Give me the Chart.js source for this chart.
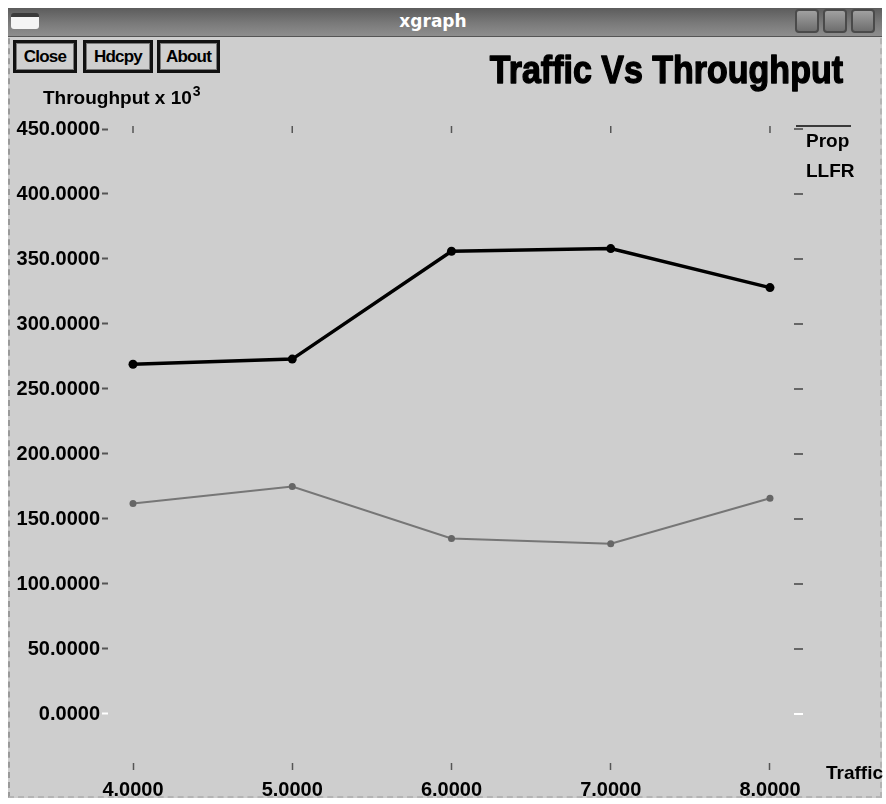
<!DOCTYPE html>
<html>
<head>
<meta charset="utf-8">
<title>xgraph</title>
<script src="https://cdn.jsdelivr.net/npm/chart.js@4/dist/chart.umd.min.js"></script>
<style>
  html, body { margin: 0; padding: 0; background: #ffffff; }
  body { width: 886px; height: 804px; position: relative; overflow: hidden; font-family: "Liberation Sans", Arial, sans-serif; }
  .frame { position: absolute; left: 8px; top: 8px; width: 874px; height: 790px; background: #cecece;
           border-left: 2px dashed #9a9a9a; border-right: 2px dashed #b4b4b4; border-bottom: 2px dashed #b4b4b4; box-sizing: border-box; }
  .titlebar { position: absolute; left: 8px; top: 8px; width: 874px; height: 29px;
              background: linear-gradient(#5c5c5c, #7a7a7a 55%, #8e8e8e); border-bottom: 1px solid #555; box-sizing: border-box; }
  .titlebar .name { position: absolute; left: 0; width: 850px; top: 3px; text-align: center; color: #fff;
                    font: bold 17px "DejaVu Sans", sans-serif; }
  .titlebar .icon { position: absolute; left: 3px; top: 5px; width: 28px; height: 16px; background: #f4f4f4;
                    border-radius: 3px; border-top: 4px solid #3a3a3a; box-sizing: border-box; }
  .winbtn { position: absolute; top: 1px; width: 24px; height: 24px; border-radius: 4px; box-sizing: border-box;
            border: 2px solid #4a4a4a; background: linear-gradient(#a0a0a0, #6e6e6e); }
  .btn { position: absolute; top: 40px; height: 33px; box-sizing: border-box; border: 3px solid #111;
         box-shadow: inset 0 0 0 1px #7a7a7a; background: #cfcfcf; color: #000; text-align: center;
         font: bold 17px "Liberation Sans", Arial, sans-serif; line-height: 27px; letter-spacing: -0.8px; }
  #chart { position: absolute; left: 0; top: 0; }
</style>
</head>
<body>
<div class="frame"></div>
<div class="titlebar">
  <div class="icon"></div>
  <div class="name">xgraph</div>
  <div class="winbtn" style="left:787px"></div>
  <div class="winbtn" style="left:815px"></div>
  <div class="winbtn" style="left:843px"></div>
</div>
<div class="btn" style="left:13px;width:64px">Close</div>
<div class="btn" style="left:83px;width:70px">Hdcpy</div>
<div class="btn" style="left:157px;width:63px">About</div>
<canvas id="chart" width="886" height="804"></canvas>
<script>
// Traffic load (x) against measured throughput (x 10^3) for two schemes
const traffic = [4, 5, 6, 7, 8];
const propThroughput = [269, 273, 356, 358, 328];
const llfrThroughput = [162, 175, 135, 131, 166];
const yTickValues = [0, 50, 100, 150, 200, 250, 300, 350, 400, 450];
const seriesNames = ['Prop', 'LLFR'];
const seriesColors = ['#000000', '#767676'];
const chartTitle = 'Traffic Vs Throughput';
const yAxisName = 'Throughput x 10';
const yAxisPower = '3';
const xAxisName = 'Traffic';

const FONT = '"Liberation Sans", Arial, sans-serif';

const toPoints = ys => traffic.map((t, i) => ({ x: t, y: ys[i] }));

// xgraph-style frame decorations: opposite-side tick marks, title, axis names, legend
const xgraphDecor = {
  id: 'xgraphDecor',
  afterDraw(chart) {
    const { ctx, chartArea: a, scales: { x, y } } = chart;
    ctx.save();
    ctx.lineWidth = 1.5;
    // short marks along the top edge at every x tick
    ctx.strokeStyle = '#555';
    x.ticks.forEach(t => {
      const px = x.getPixelForValue(t.value);
      ctx.beginPath(); ctx.moveTo(px, a.top - 3); ctx.lineTo(px, a.top + 4); ctx.stroke();
    });
    // short marks along the right edge at every y tick (zero line mark drawn white)
    ctx.lineWidth = 2;
    y.ticks.forEach(t => {
      const py = y.getPixelForValue(t.value);
      ctx.strokeStyle = t.value === 0 ? '#ffffff' : '#666';
      ctx.beginPath(); ctx.moveTo(a.right - 4, py); ctx.lineTo(a.right + 5, py); ctx.stroke();
    });

    ctx.fillStyle = '#000';
    ctx.strokeStyle = '#000';
    ctx.textBaseline = 'alphabetic';
    // chart title, right aligned, heavy face
    ctx.save();
    ctx.font = 'bold 34px ' + FONT;
    ctx.textAlign = 'right';
    ctx.translate(843, 83);
    ctx.scale(1, 1.16);
    ctx.lineWidth = 1.2;
    ctx.lineJoin = 'round';
    ctx.fillText(chartTitle, 0, 0);
    ctx.strokeText(chartTitle, 0, 0);
    ctx.restore();

    // y axis name with power of ten
    ctx.font = 'bold 19px ' + FONT;
    ctx.textAlign = 'left';
    ctx.fillText(yAxisName, 43, 104);
    const w = ctx.measureText(yAxisName).width;
    ctx.font = 'bold 14px ' + FONT;
    ctx.fillText(yAxisPower, 43 + w + 1, 96);

    // x axis name beside the last tick
    ctx.font = 'bold 19px ' + FONT;
    ctx.fillText(xAxisName, a.right + 28, 779);

    // legend: a line above the first entry, names stacked down the right edge
    ctx.font = 'bold 19px ' + FONT;
    chart.data.datasets.forEach((ds, i) => {
      const top = a.top + i * 30;
      if (i === 0) {
        ctx.strokeStyle = '#3a3a3a';
        ctx.lineWidth = 2;
        ctx.beginPath(); ctx.moveTo(a.right - 2, top - 3); ctx.lineTo(a.right + 53, top - 3); ctx.stroke();
      }
      ctx.fillText(ds.label, a.right + 8, top + 18);
    });
    ctx.restore();
  }
};

new Chart(document.getElementById('chart'), {
  type: 'line',
  data: {
    datasets: [
      {
        label: seriesNames[0],
        data: toPoints(propThroughput),
        borderColor: seriesColors[0],
        backgroundColor: seriesColors[0],
        borderWidth: 3.5,
        pointRadius: 4.5,
        pointBorderWidth: 0,
        tension: 0
      },
      {
        label: seriesNames[1],
        data: toPoints(llfrThroughput),
        borderColor: seriesColors[1],
        backgroundColor: '#666666',
        borderWidth: 2,
        pointRadius: 3.5,
        pointBorderWidth: 0,
        tension: 0
      }
    ]
  },
  options: {
    responsive: false,
    animation: false,
    devicePixelRatio: 1,
    layout: { padding: { left: 0, top: 129, right: 88, bottom: 0 } },
    plugins: {
      legend: { display: false },
      title: { display: false },
      tooltip: { enabled: false }
    },
    scales: {
      x: {
        type: 'linear',
        min: 3.843,
        max: 8.176,
        afterBuildTicks: s => { s.ticks = traffic.map(v => ({ value: v })); },
        afterFit: s => { s.height = 41; },
        border: { display: false },
        grid: { drawOnChartArea: false, drawTicks: true, tickLength: 7, tickColor: '#555', tickWidth: 1.5 },
        ticks: {
          autoSkip: false, maxRotation: 0, padding: 8, color: '#000',
          font: { family: FONT, size: 20, weight: 'bold' },
          callback: v => Number(v).toFixed(4)
        }
      },
      y: {
        type: 'linear',
        min: -37.7,
        max: 450,
        afterBuildTicks: s => { s.ticks = yTickValues.map(v => ({ value: v })); },
        afterFit: s => { s.width = 108; },
        border: { display: false },
        grid: {
          drawOnChartArea: false, drawTicks: true, tickLength: 6, tickWidth: 2,
          tickColor: c => (c.tick && c.tick.value === 0 ? '#ffffff' : '#555')
        },
        ticks: {
          padding: 2, color: '#000',
          font: { family: FONT, size: 20, weight: 'bold' },
          callback: v => Number(v).toFixed(4)
        }
      }
    }
  },
  plugins: [xgraphDecor]
});
</script>
</body>
</html>
